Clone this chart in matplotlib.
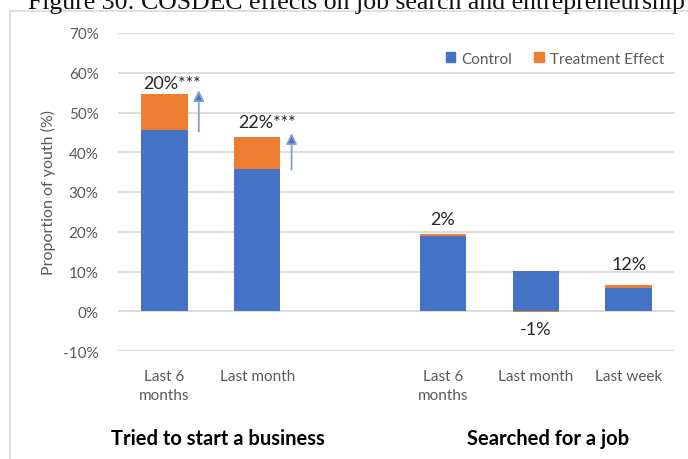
import matplotlib.pyplot as plt
import numpy as np
from matplotlib.patches import Patch, Rectangle

# Share of youth by outcome; treatment effect given relative to control (%)
categories = ["Last 6\nmonths", "Last month", "", "Last 6\nmonths", "Last month", "Last week"]
control = [45.5, 35.9, np.nan, 19.0, 10.1, 5.9]
rel_effect = [20, 22, np.nan, 2, -1, 12]
effect_labels = ["20%***", "22%***", "", "2%", "-1%", "12%"]
groups = ["Tried to start a business", "Searched for a job"]
yticks = list(range(-10, 71, 10))

BLUE = "#4472C4"
ORANGE = "#ED7D31"
GRAY = "#595959"
GRID = "#D9D9D9"
FONT = ["Lato", "DejaVu Sans"]

control = np.array(control)
effect = control * np.array(rel_effect) / 100
x = np.arange(len(categories))

fig = plt.figure(figsize=(6.88, 4.60), dpi=100)
ax = fig.add_axes([118 / 688, 1 - 352 / 460, 557 / 688, 318 / 460])

# chart frame and the caption above it (runs off the top edge)
fig.patches.append(Rectangle((10 / 688, -0.1), 1.1, 1.1 - 12 / 460,
                             transform=fig.transFigure, fill=False,
                             ec=GRID, lw=1.2))
fig.text(28 / 688, 1 - 9 / 460,
         "Figure 30: COSDEC effects on job search and entrepreneurship",
         family="Liberation Serif", fontsize=18.5, va="baseline", ha="left",
         color="#111111")

# stacked bars: negative effects start from zero like a stacked column chart
ax.bar(x, control, width=0.5, color=BLUE, zorder=2)
bottom = np.where(effect >= 0, control, 0)
ax.bar(x, effect, width=0.5, bottom=bottom, color=ORANGE, zorder=2)

total = control + np.clip(effect, 0, None)
for i, lab in enumerate(effect_labels):
    if not lab:
        continue
    if effect[i] < 0:
        ax.text(x[i], -4.5, lab, ha="center", va="center", fontsize=13,
                color="#262626", family=FONT)
    elif i < 2:
        ax.text(x[i] + 0.08 * (i == 0) + 0.1 * (i == 1), total[i] + 2.9 + 1.0 * i,
                lab, ha="center", va="center", fontsize=13,
                color="#262626", family=FONT)
        # arrow marking the significant increase
        ax.annotate("", xy=(x[i] + 0.37, total[i] + 1.0),
                    xytext=(x[i] + 0.37, control[i] - 0.3),
                    arrowprops=dict(arrowstyle="-|>", mutation_scale=16,
                                    lw=1.3, ec="#7F9FD8", fc=BLUE,
                                    shrinkA=0, shrinkB=0))
    else:
        ax.text(x[i], total[i] + 3.8 + 1.4 * (i == 5), lab, ha="center",
                va="center", fontsize=13, color="#262626", family=FONT)

ax.set_xlim(-0.5, len(categories) - 0.5)
ax.set_ylim(-10, 70)
ax.set_yticks(yticks)
ax.set_yticklabels([f"{t}%" for t in yticks], family=FONT, fontsize=11,
                   color=GRAY)
ax.yaxis.grid(True, color=GRID, lw=1.3, zorder=0)
ax.set_axisbelow(True)
ax.tick_params(length=0)
ax.tick_params(axis="y", pad=14)
ax.set_xticks([i for i in x if categories[i]])
ax.set_xticklabels([c for c in categories if c], family=FONT, fontsize=11,
                   color=GRAY, linespacing=1.45)
ax.tick_params(axis="x", pad=13)
for s in ax.spines.values():
    s.set_visible(False)

ax.set_ylabel("Proportion of youth (%)", family=FONT, fontsize=11.5,
              color=GRAY, labelpad=5)

# group captions under the category labels
for gx, name in zip([0.58, 4.13], groups):
    ax.text(gx, -32.0, name, ha="center", va="center", fontsize=14.5,
            fontweight="bold", family=FONT, color="black", clip_on=False)

handles = [Patch(color=BLUE, label="Control"),
           Patch(color=ORANGE, label="Treatment Effect")]
ax.legend(handles=handles, loc="upper right", ncol=2, frameon=False,
          bbox_to_anchor=(1.005, 0.985), handlelength=0.65, handleheight=0.65,
          handletextpad=0.4, columnspacing=1.4,
          prop=dict(family=FONT, size=11), labelcolor=GRAY)

fig.savefig("out.png", dpi=100)
